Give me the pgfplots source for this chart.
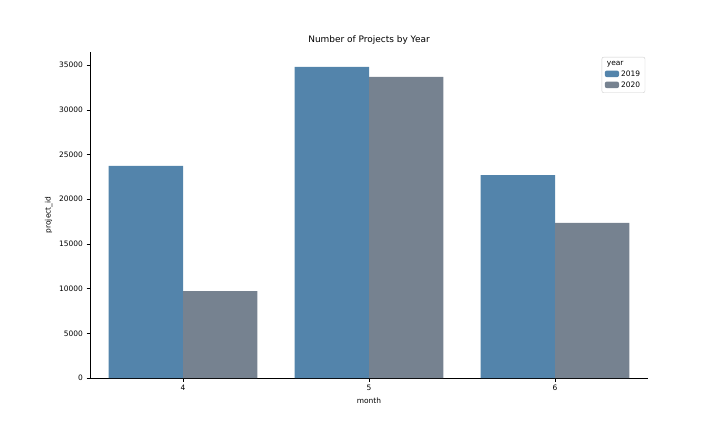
\documentclass[border=0pt]{standalone}
\usepackage{pgfplots}
\pgfplotsset{compat=1.18}
\usepackage{fontspec}
\setmainfont{DejaVu Sans}
\definecolor{c19}{HTML}{5384AB}
\definecolor{c20}{HTML}{768290}
\begin{document}
\begin{tikzpicture}[x=1bp,y=1bp]
\useasboundingbox (0,0) rectangle (720,432);
\begin{axis}[at={(90bp,54bp)},anchor=south west,scale only axis,
width=558bp,height=326bp,
xmin=-0.5,xmax=2.5,ymin=0,ymax=36460,
ybar=0pt,bar width=0.4,
xtick={0,1,2},xticklabels={4,5,6},
ytick={0,5000,...,35000},
scaled y ticks=false,
/pgf/number format/assume math mode=true,
/pgf/number format/set thousands separator={},
tick style={black},tick align=outside,major tick length=3.5bp,
axis x line*=bottom,axis y line*=left,
ticklabel style={font=\fontsize{7.5}{9}\selectfont},
xlabel={month},ylabel={project\_id},
label style={font=\fontsize{7.5}{9}\selectfont},
title={Number of Projects by Year},
title style={font=\fontsize{9}{11}\selectfont,yshift=-2bp},
legend style={at={(0.995,0.985)},anchor=north east,font=\fontsize{7.5}{9}\selectfont,draw=black!20,rounded corners=2pt,cells={anchor=west}},
legend image code/.code={\draw[#1,draw=none] (0cm,-0.1cm) rectangle (0.5cm,0.13cm);},
]
\addlegendimage{empty legend}\addlegendentry{\hspace{-0.5cm}\hfill year}
\addplot[fill=c19,draw=none] coordinates {(0,23710) (1,34790) (2,22700)};
\addlegendentry{2019}
\addplot[fill=c20,draw=none] coordinates {(0,9730) (1,33670) (2,17340)};
\addlegendentry{2020}
\end{axis}
\end{tikzpicture}
\end{document}
